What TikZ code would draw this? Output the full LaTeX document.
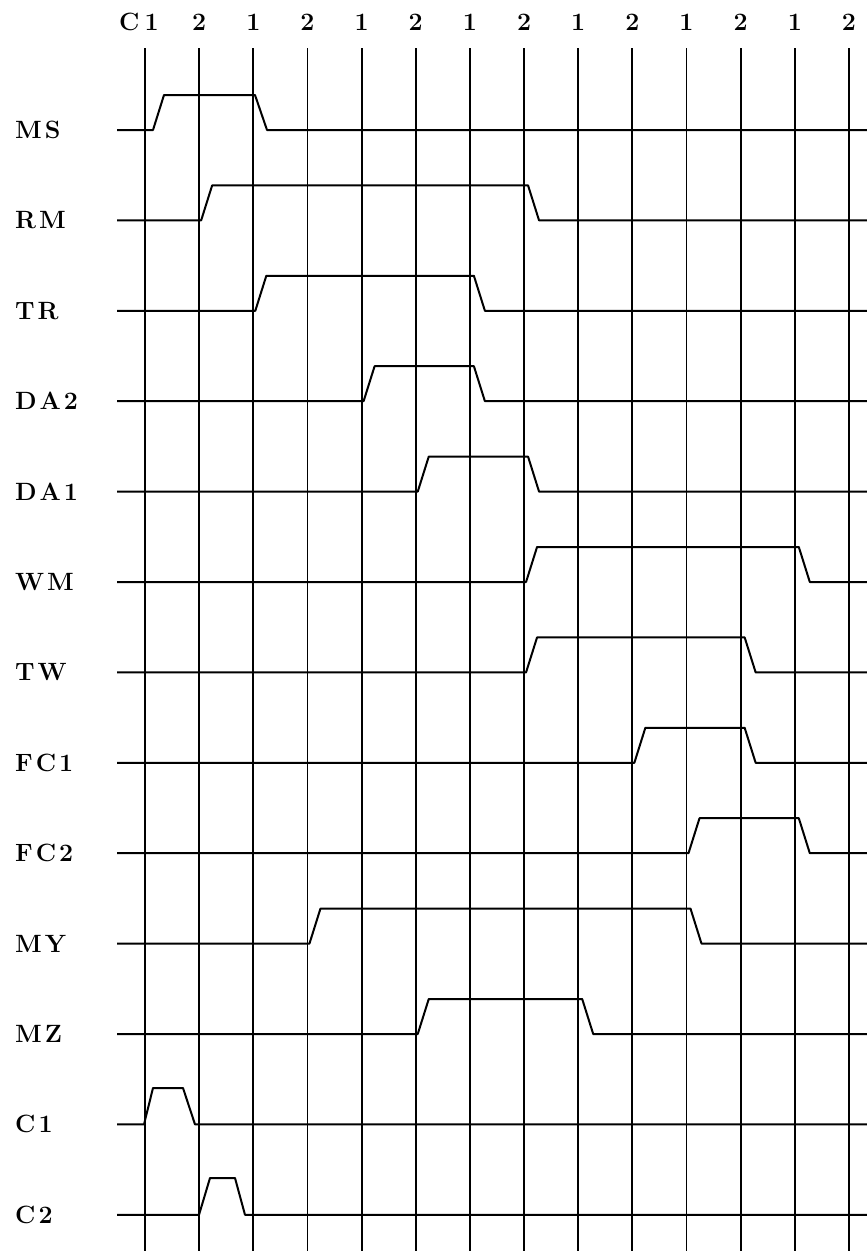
\documentclass[tikz,border=0pt]{standalone}
\usepackage{fontspec}
\newcommand\tsig[3]{%
  \pgfmathsetmacro\yy{130+90.4*#1}%
  \pgfmathsetmacro\xr{145+54.15*#2}%
  \pgfmathsetmacro\xf{145+54.15*#3}%
  \draw[sig] (117,\yy) -- ({\xr+2},\yy) -- ({\xr+13},{\yy-35}) -- ({\xf+4},{\yy-35}) -- ({\xf+15},\yy) -- (867,\yy);}
\tikzset{
  sig/.style={line width=2pt, line join=round},
  gridline/.style={line width=1.9pt},
  lbl/.style={inner sep=0pt, font=\fontsize{25}{25}\selectfont\bfseries},
  toplbl/.style={inner sep=0pt, font=\fontsize{25}{25}\selectfont\bfseries}
}
\begin{document}
\begin{tikzpicture}[x=1pt,y=-1pt]
\useasboundingbox (0,0) rectangle (867,1251);
% vertical clock lines and top labels
\foreach \i/\t in {1/2,2/1,3/2,4/1,5/2,6/1,7/2,8/1,9/2,10/1,11/2,12/1,13/2}{
  \pgfmathsetmacro\xx{145+54.15*\i}
  \node[toplbl] (t\i) at (\xx,22) {\t};
  \draw[gridline] (\xx,48) -- (\xx,1251);
}
\node[toplbl, anchor=west] (t0) at (119,22) {C\kern5pt 1};
\draw[gridline] (145,48) -- (145,1251);
% signal labels
\foreach \k/\name in {0/M\kern3pt S,1/R\kern3pt M,2/T\kern3pt R,3/D\kern3pt A\kern3pt 2,4/D\kern3pt A\kern3pt 1,5/W\kern3pt M,6/T\kern3pt W,7/F\kern3pt C\kern3pt 1,8/F\kern3pt C\kern3pt 2,9/M\kern3pt Y,10/M\kern3pt Z,11/C\kern3pt 1,12/C\kern3pt 2}{
  \pgfmathsetmacro\yy{130+90.4*\k}
  \node[lbl, anchor=west] (s\k) at (15,\yy) {\name};
}
% signals
% MS (special rise offset)
\draw[sig] (117,130) -- (153,130) -- (164,95) -- (255,95) -- (267,130) -- (867,130);
\tsig{1}{1}{7}
\tsig{2}{2}{6}
\tsig{3}{4}{6}
\tsig{4}{5}{7}
\tsig{5}{7}{12}
\tsig{6}{7}{11}
\tsig{7}{9}{11}
\tsig{8}{10}{12}
\tsig{9}{3}{10}
\tsig{10}{5}{8}
% C1 pulse
\draw[sig] (117,1124.4) -- (144,1124.4) -- (153,1088) -- (183,1088) -- (195,1124.4) -- (867,1124.4);
% C2 pulse
\draw[sig] (117,1214.8) -- (199,1214.8) -- (210,1178) -- (235,1178) -- (245,1214.8) -- (867,1214.8);
\end{tikzpicture}
\end{document}
